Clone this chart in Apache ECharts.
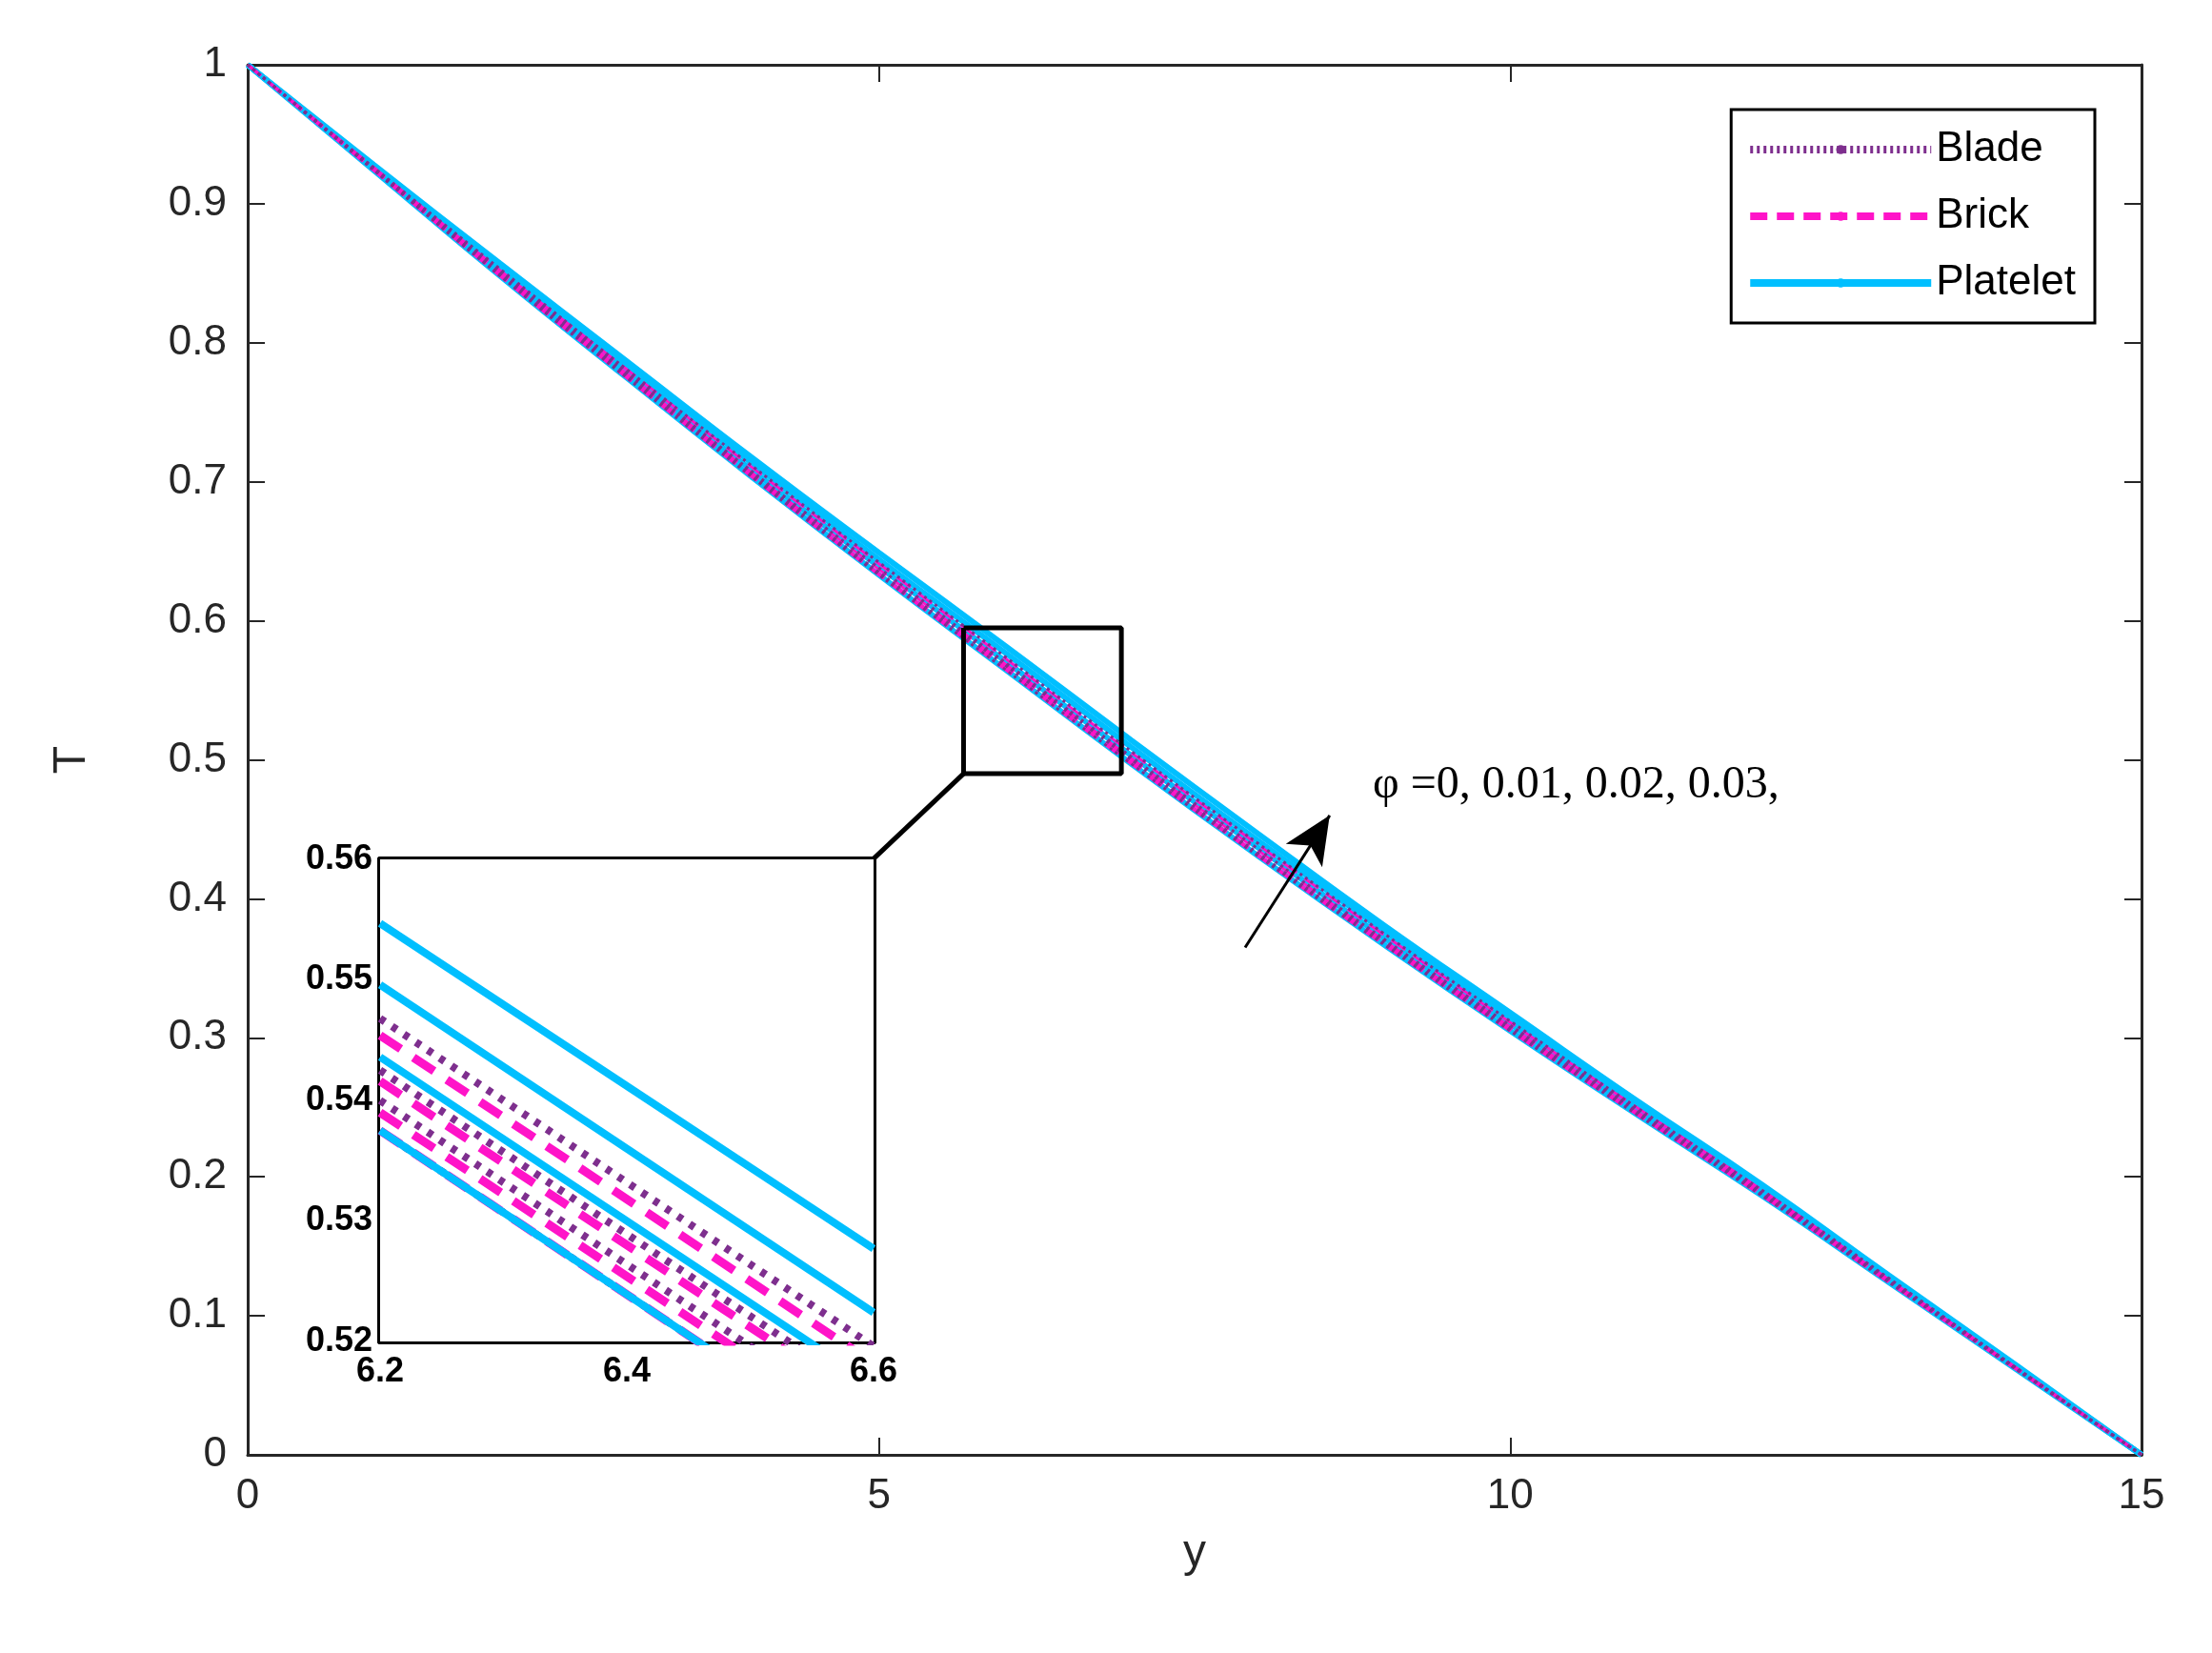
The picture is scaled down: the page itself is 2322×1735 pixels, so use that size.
<!DOCTYPE html>
<html>
<head>
<meta charset="utf-8">
<script src="https://cdn.jsdelivr.net/npm/echarts@6/dist/echarts.min.js"></script>
<style>html,body{margin:0;padding:0;background:#fff}#chart{width:2322px;height:1735px}</style>
</head>
<body>
<div id="chart"></div>
<script>
// main curves, sampled at y = 0..15
const yVals = [0, 1, 2, 3, 4, 5, 6, 7, 8, 9, 10, 11, 12, 13, 14, 15]
const base      = [1, .924, .848, .775, .703, .633, .565, .497, .431, .367, .305, .245, .186, .124, .062, 0]
const blade1    = [1, .925, .849, .777, .705, .635, .568, .500, .433, .369, .307, .247, .187, .125, .062, 0]
const blade2    = [1, .925, .851, .779, .707, .638, .570, .502, .436, .371, .309, .248, .188, .126, .063, 0]
const blade3    = [1, .926, .853, .781, .711, .642, .574, .506, .440, .375, .312, .250, .190, .127, .063, 0]
const brick1    = [1, .924, .849, .776, .704, .634, .567, .499, .432, .368, .306, .246, .187, .124, .062, 0]
const brick2    = [1, .925, .850, .778, .706, .637, .569, .501, .435, .370, .308, .247, .188, .125, .063, 0]
const brick3    = [1, .926, .852, .781, .710, .641, .573, .505, .439, .374, .311, .250, .190, .126, .063, 0]
const platelet1 = [1, .926, .851, .779, .708, .639, .571, .503, .437, .372, .310, .249, .189, .126, .063, 0]
const platelet2 = [1, .927, .854, .783, .713, .644, .577, .509, .442, .377, .314, .252, .191, .128, .064, 0]
const platelet3 = [1, .928, .857, .787, .717, .649, .582, .514, .447, .381, .318, .255, .194, .129, .065, 0]

// inset values at y = 6.2 and 6.6, phi = 0, 0.01, 0.02, 0.03
const insetX = [6.2, 6.6]
const bladeInset = [[.5375, .5103], [.5400, .5128], [.5425, .5153], [.5468, .5196]]
const brickInset = [[.5375, .5103], [.5390, .5118], [.5416, .5144], [.5454, .5182]]
const plateletInset = [[.5375, .5103], [.5436, .5164], [.5496, .5224], [.5547, .5277]]

const C_BLADE = '#7E2F8E', C_BRICK = '#FF14C8', C_PLATE = '#00BFFF'
const zip = (xs, ys) => xs.map((x, i) => [x, ys[i]])

let chart = echarts.init(document.getElementById('chart'))

let mainSeries = []
let addMain = (name, data, color, type, width) => {
  mainSeries.push({
    name, type: 'line', xAxisIndex: 0, yAxisIndex: 0, data: zip(yVals, data),
    symbol: 'none', smooth: true, lineStyle: {color, type, width}, itemStyle: {color}, z: 3
  })
}
;[base, platelet1, platelet2, platelet3].forEach(d => addMain('Platelet', d, C_PLATE, 'solid', 6))
;[base, brick1, brick2, brick3].forEach(d => addMain('Brick', d, C_BRICK, [18, 10], 3))
;[base, blade1, blade2, blade3].forEach(d => addMain('Blade', d, C_BLADE, [3, 4], 3))

let insetSeries = []
let addInset = (name, rows, color, type, width) => rows.forEach(r => insetSeries.push({
  name, type: 'line', xAxisIndex: 2, yAxisIndex: 2, data: zip(insetX, r),
  symbol: 'none', lineStyle: {color, type, width}, itemStyle: {color}, z: 5
}))
addInset('Blade', bladeInset, C_BLADE, [6, 9], 8)
addInset('Brick', brickInset, C_BRICK, [26, 16], 9)
addInset('Platelet', plateletInset, C_PLATE, 'solid', 8)

// zoom box and connector, in main data coords
const boxX = [5.67, 6.92, 6.92, 5.67, 5.67]
const boxY = [0.595, 0.595, 0.49, 0.49, 0.595]
const linkX = [4.955, 5.67]
const linkY = [0.4286, 0.49]

const tickFont = {fontSize: 44, color: '#262626', fontFamily: 'Liberation Sans, Arial'}
const insetFont = {fontSize: 36, fontWeight: 'bold', color: '#000', fontFamily: 'Liberation Sans, Arial'}

let mainAxis = (pos, extra) => Object.assign({
  type: 'value', position: pos, gridIndex: 0,
  axisLine: {show: true, onZero: false, lineStyle: {color: '#262626', width: 3}},
  axisTick: {show: true, inside: true, length: 18, lineStyle: {color: '#262626', width: 2}},
  splitLine: {show: false}
}, extra)

let insetAxis = (pos, extra) => Object.assign({
  type: 'value', position: pos, gridIndex: 1,
  axisLine: {show: true, onZero: false, lineStyle: {color: '#000', width: 6}},
  axisTick: {show: true, inside: true, length: 10, lineStyle: {color: '#000', width: 5}},
  splitLine: {show: false}
}, extra)

let options = {
  backgroundColor: '#fff',
  animation: false,
  grid: [
    {left: 260, top: 68, width: 1988, height: 1459},
    {left: 399, top: 902, width: 518, height: 506, show: true, backgroundColor: '#fff', borderWidth: 0, z: 4}
  ],
  legend: {
    data: [
      {name: 'Blade', lineStyle: {width: 8}},
      {name: 'Brick', lineStyle: {width: 8}},
      {name: 'Platelet', lineStyle: {width: 8}}
    ],
    orient: 'vertical', right: 123, top: 115,
    itemWidth: 190, itemHeight: 12, itemGap: 26,
    padding: [20, 20, 20, 16],
    borderColor: '#000', borderWidth: 3, backgroundColor: '#fff',
    textStyle: {fontSize: 44, color: '#000', fontFamily: 'Liberation Sans, Arial'}
  },
  xAxis: [
    mainAxis('bottom', {min: 0, max: 15, interval: 5, name: 'y', nameLocation: 'middle', nameGap: 80,
      nameTextStyle: {fontSize: 48, color: '#262626', fontFamily: 'Liberation Sans, Arial'},
      axisLabel: Object.assign({margin: 22}, tickFont)}),
    mainAxis('top', {min: 0, max: 15, interval: 5, axisLabel: {show: false}}),
    insetAxis('bottom', {min: 6.2, max: 6.6, interval: 0.2,
      axisLabel: Object.assign({margin: 14, formatter: v => v.toFixed(1)}, insetFont)}),
    insetAxis('top', {min: 6.2, max: 6.6, interval: 0.2, axisLabel: {show: false}})
  ],
  yAxis: [
    mainAxis('left', {min: 0, max: 1, interval: 0.1, name: 'T', nameLocation: 'middle', nameGap: 160,
      nameTextStyle: {fontSize: 48, color: '#262626', fontFamily: 'Liberation Sans, Arial'},
      axisLabel: Object.assign({margin: 22, formatter: v => +v.toFixed(1) + ''}, tickFont)}),
    mainAxis('right', {min: 0, max: 1, interval: 0.1, axisLabel: {show: false}}),
    insetAxis('left', {min: 0.52, max: 0.56, interval: 0.01,
      axisLabel: Object.assign({margin: 8, formatter: v => v.toFixed(2)}, insetFont)}),
    insetAxis('right', {min: 0.52, max: 0.56, interval: 0.01, axisLabel: {show: false}})
  ],
  series: [
    ...mainSeries,
    {type: 'line', xAxisIndex: 0, yAxisIndex: 0, data: zip(boxX, boxY), symbol: 'none',
      lineStyle: {color: '#000', width: 5}, silent: true, z: 6},
    {type: 'line', xAxisIndex: 0, yAxisIndex: 0, data: zip(linkX, linkY), symbol: 'none',
      lineStyle: {color: '#000', width: 5}, silent: true, z: 6,
      markLine: {
        silent: true, symbol: ['none', 'arrow'], symbolSize: [34, 50], label: {show: false},
        lineStyle: {color: '#000', width: 3, type: 'solid'},
        data: [[{coord: [7.9, 0.365]}, {coord: [8.57, 0.46]}]]
      }},
    ...insetSeries
  ],
  graphic: [{
    type: 'text', left: 1441, top: 800, z: 10,
    style: {text: 'φ =0, 0.01, 0.02, 0.03,', fontSize: 48, fill: '#000',
      fontFamily: 'Liberation Serif, DejaVu Serif, serif'}
  }]
}
chart.setOption(options, true)
</script>
</body>
</html>
